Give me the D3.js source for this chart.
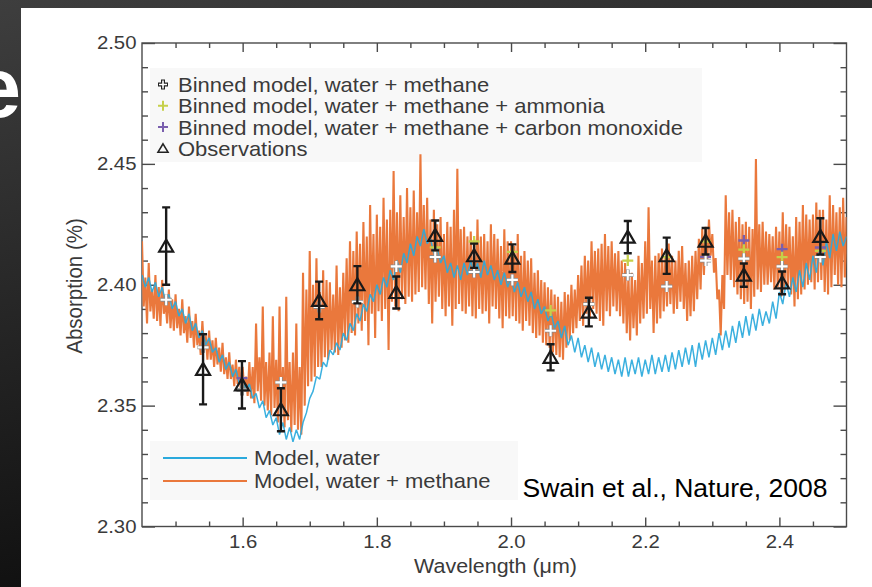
<!DOCTYPE html>
<html>
<head>
<meta charset="utf-8">
<script src="https://cdn.jsdelivr.net/npm/d3@7"></script>
<style>
  html, body { margin: 0; padding: 0; background: #111; }
  svg { display: block; }
</style>
</head>
<body>
<svg id="chart" width="872" height="587"></svg>
<script>
// ---- Model spectra, binned every 0.005 µm from 1.450 µm ----
const gridStart = 1.45;
const gridStep = 0.005;

// Model, water + methane: upper and lower extent of the spectrum within each bin (absorption %)
const methaneHigh = [
  2.418, 2.403, 2.409, 2.398, 2.404, 2.399, 2.402, 2.393, 2.398, 2.394,
  2.396, 2.390, 2.394, 2.387, 2.391, 2.385, 2.388, 2.381, 2.385, 2.379,
  2.381, 2.377, 2.378, 2.374, 2.376, 2.370, 2.372, 2.367, 2.369, 2.366,
  2.366, 2.362, 2.368, 2.366, 2.384, 2.370, 2.391, 2.368, 2.372, 2.387,
  2.369, 2.391, 2.366, 2.395, 2.368, 2.372, 2.384, 2.366, 2.405, 2.398,
  2.414, 2.400, 2.411, 2.397, 2.406, 2.402, 2.401, 2.396, 2.408, 2.399,
  2.405, 2.411, 2.418, 2.414, 2.422, 2.417, 2.426, 2.420, 2.433, 2.421,
  2.429, 2.424, 2.436, 2.427, 2.431, 2.447, 2.430, 2.437, 2.428, 2.440,
  2.432, 2.439, 2.430, 2.454, 2.433, 2.436, 2.427, 2.431, 2.425, 2.428,
  2.421, 2.426, 2.424, 2.431, 2.448, 2.423, 2.424, 2.420, 2.422, 2.419,
  2.427, 2.420, 2.421, 2.418, 2.425, 2.421, 2.419, 2.416, 2.423, 2.418,
  2.418, 2.416, 2.421, 2.412, 2.414, 2.410, 2.411, 2.405, 2.406, 2.402,
  2.401, 2.399, 2.398, 2.396, 2.395, 2.393, 2.397, 2.396, 2.400, 2.398,
  2.404, 2.408, 2.412, 2.410, 2.418, 2.414, 2.415, 2.417, 2.421, 2.416,
  2.418, 2.413, 2.414, 2.410, 2.409, 2.404, 2.405, 2.402, 2.412, 2.409,
  2.418, 2.432, 2.410, 2.412, 2.413, 2.415, 2.411, 2.417, 2.412, 2.410,
  2.414, 2.416, 2.409, 2.410, 2.412, 2.414, 2.419, 2.423, 2.424, 2.427,
  2.421, 2.411, 2.398, 2.404, 2.437, 2.430, 2.431, 2.426, 2.428, 2.425,
  2.426, 2.424, 2.423, 2.452, 2.425, 2.426, 2.422, 2.421, 2.420, 2.424,
  2.422, 2.430, 2.425, 2.424, 2.420, 2.428, 2.426, 2.433, 2.429, 2.427,
  2.429, 2.434, 2.431, 2.431, 2.427, 2.437, 2.433, 2.430, 2.432, 2.436, 2.428
];
const methaneLow = [
  2.391, 2.384, 2.389, 2.386, 2.385, 2.383, 2.388, 2.384, 2.382, 2.381,
  2.382, 2.379, 2.380, 2.376, 2.378, 2.374, 2.375, 2.371, 2.373, 2.369,
  2.369, 2.366, 2.367, 2.364, 2.363, 2.361, 2.361, 2.358, 2.359, 2.356,
  2.356, 2.354, 2.353, 2.351, 2.356, 2.352, 2.350, 2.348, 2.346, 2.349,
  2.343, 2.345, 2.341, 2.344, 2.339, 2.342, 2.340, 2.338, 2.350, 2.358,
  2.360, 2.362, 2.366, 2.366, 2.370, 2.369, 2.373, 2.372, 2.371, 2.374,
  2.377, 2.376, 2.380, 2.379, 2.384, 2.381, 2.385, 2.375, 2.388, 2.378,
  2.389, 2.385, 2.390, 2.373, 2.393, 2.391, 2.389, 2.394, 2.392, 2.395,
  2.393, 2.396, 2.397, 2.399, 2.398, 2.392, 2.384, 2.393, 2.395, 2.390,
  2.387, 2.391, 2.383, 2.390, 2.392, 2.389, 2.388, 2.391, 2.387, 2.386,
  2.390, 2.388, 2.389, 2.384, 2.391, 2.390, 2.386, 2.382, 2.387, 2.386,
  2.387, 2.385, 2.384, 2.381, 2.385, 2.383, 2.380, 2.378, 2.379, 2.376,
  2.375, 2.374, 2.372, 2.371, 2.370, 2.369, 2.374, 2.377, 2.380, 2.382,
  2.385, 2.383, 2.388, 2.386, 2.390, 2.388, 2.385, 2.383, 2.389, 2.387,
  2.391, 2.389, 2.387, 2.384, 2.380, 2.377, 2.382, 2.379, 2.384, 2.386,
  2.388, 2.390, 2.380, 2.384, 2.386, 2.389, 2.391, 2.392, 2.388, 2.390,
  2.393, 2.390, 2.385, 2.387, 2.389, 2.394, 2.398, 2.404, 2.410, 2.412,
  2.405, 2.394, 2.379, 2.390, 2.404, 2.402, 2.399, 2.396, 2.394, 2.392,
  2.393, 2.390, 2.395, 2.398, 2.397, 2.400, 2.400, 2.401, 2.398, 2.399,
  2.395, 2.398, 2.399, 2.396, 2.391, 2.394, 2.396, 2.398, 2.400, 2.401,
  2.398, 2.401, 2.402, 2.397, 2.396, 2.399, 2.404, 2.400, 2.399, 2.403, 2.405
];

// Model, water (absorption %)
const modelWater = [
  2.404, 2.399, 2.403, 2.397, 2.401, 2.395, 2.399, 2.393, 2.396, 2.390,
  2.393, 2.387, 2.390, 2.384, 2.388, 2.381, 2.384, 2.378, 2.381, 2.375,
  2.378, 2.372, 2.374, 2.368, 2.371, 2.365, 2.368, 2.362, 2.365, 2.359,
  2.362, 2.356, 2.359, 2.353, 2.355, 2.349, 2.352, 2.345, 2.348, 2.342,
  2.345, 2.338, 2.343, 2.336, 2.341, 2.335, 2.340, 2.336, 2.343, 2.347,
  2.353, 2.356, 2.362, 2.361, 2.368, 2.366, 2.373, 2.371, 2.376, 2.373,
  2.380, 2.377, 2.384, 2.381, 2.388, 2.385, 2.392, 2.389, 2.396, 2.393,
  2.400, 2.396, 2.403, 2.399, 2.406, 2.402, 2.410, 2.405, 2.413, 2.409,
  2.417, 2.412, 2.420, 2.416, 2.423, 2.417, 2.419, 2.413, 2.415, 2.409,
  2.412, 2.405, 2.409, 2.403, 2.408, 2.402, 2.409, 2.404, 2.410, 2.404,
  2.409, 2.403, 2.410, 2.404, 2.408, 2.402, 2.406, 2.400, 2.405, 2.399,
  2.403, 2.397, 2.401, 2.395, 2.399, 2.393, 2.397, 2.390, 2.394, 2.388,
  2.391, 2.385, 2.388, 2.382, 2.385, 2.378, 2.383, 2.375, 2.379, 2.372,
  2.378, 2.370, 2.375, 2.368, 2.374, 2.366, 2.372, 2.365, 2.371, 2.364,
  2.370, 2.363, 2.369, 2.362, 2.370, 2.362, 2.369, 2.363, 2.370, 2.362,
  2.369, 2.363, 2.371, 2.363, 2.370, 2.364, 2.371, 2.364, 2.372, 2.365,
  2.373, 2.366, 2.374, 2.367, 2.375, 2.366, 2.376, 2.369, 2.377, 2.370,
  2.378, 2.371, 2.380, 2.373, 2.381, 2.374, 2.383, 2.376, 2.385, 2.378,
  2.387, 2.379, 2.388, 2.381, 2.390, 2.383, 2.389, 2.384, 2.393, 2.386,
  2.397, 2.392, 2.401, 2.395, 2.403, 2.397, 2.406, 2.399, 2.409, 2.402,
  2.412, 2.405, 2.415, 2.408, 2.418, 2.411, 2.421, 2.414, 2.422, 2.416, 2.420
];

// ---- Binned models and observations ----
const binWavelength = [1.486, 1.541, 1.599, 1.657, 1.714, 1.771, 1.829, 1.887, 1.945,
                       2.002, 2.059, 2.116, 2.174, 2.232, 2.290, 2.347, 2.404, 2.461];
const binnedWaterMethane = [2.3938, 2.3741, 2.3565, 2.3596, 2.3908, 2.3929, 2.4076, 2.4115, 2.4053,
                            2.4020, 2.3810, 2.3920, 2.4040, 2.3993, 2.4100, 2.4108, 2.4076, 2.4115];
const binnedAmmonia = [2.3938, 2.3741, 2.3565, 2.3596, 2.3908, 2.3929, 2.4076, 2.4155, 2.4179,
                       2.4136, 2.3894, 2.3920, 2.4100, 2.4114, 2.4179, 2.4145, 2.4114, 2.4140];
const binnedCarbonMonoxide = [2.3938, 2.3741, 2.3614, 2.3596, 2.3908, 2.3929, 2.4076, 2.4115, 2.4053,
                              2.4020, 2.3810, 2.3920, 2.4040, 2.3993, 2.4115, 2.4183, 2.4147, 2.4154];
const observed = [2.4160, 2.3650, 2.3586, 2.3483, 2.3935, 2.4000, 2.3968, 2.4204, 2.4120,
                  2.4110, 2.3700, 2.3887, 2.4197, 2.4120, 2.4180, 2.4040, 2.4008, 2.4200];
const observedError = [0.0160, 0.0145, 0.0098, 0.0089, 0.0078, 0.0077, 0.0066, 0.0062, 0.0050,
                       0.0057, 0.0054, 0.0059, 0.0067, 0.0075, 0.0055, 0.0048, 0.0047, 0.0075];

// ---- Axis ticks ----
const xTicksMajor = [1.6, 1.8, 2.0, 2.2, 2.4];
const yTicksMajor = [2.30, 2.35, 2.40, 2.45, 2.50];

// ---- Colours ----
const colorWater = "#2aa9dc";
const colorMethane = "#ea783c";
const colorAmmonia = "#c6d04a";
const colorCO = "#7a5fae";
const axisColor = "#4a4a4a";
const textColor = "#3a3a3a";
const fontFamily = '"Liberation Sans", Arial, Helvetica, sans-serif';

const svg = d3.select("#chart");

// Slide background and the white figure panel
const defs = svg.append("defs");
const bg = defs.append("linearGradient").attr("id", "slideBg")
  .attr("x1", 0).attr("y1", 0).attr("x2", 0.35).attr("y2", 1);
bg.append("stop").attr("offset", 0).attr("stop-color", "#3e3e3e");
bg.append("stop").attr("offset", 1).attr("stop-color", "#0c0c0c");
svg.append("rect").attr("width", 872).attr("height", 587).attr("fill", "url(#slideBg)");

svg.append("text")
  .attr("x", 21).attr("y", 117)
  .attr("text-anchor", "end")
  .attr("font-family", fontFamily)
  .attr("font-weight", "bold")
  .attr("font-size", 86)
  .attr("fill", "#ffffff")
  .text("e");

svg.append("rect").attr("x", 21).attr("y", 8).attr("width", 851).attr("height", 579).attr("fill", "#ffffff");

// Scales
const x = d3.scaleLinear().domain([1.45, 2.50]).range([142, 846.5]);
const y = d3.scaleLinear().domain([2.30, 2.50]).range([526.5, 43]);

const xTicksMinor = d3.range(1.5, 2.4999, 0.05).filter(v => !xTicksMajor.some(m => Math.abs(m - v) < 1e-6));
const yTicksMinor = d3.range(2.31, 2.4999, 0.01).filter(v => !yTicksMajor.some(m => Math.abs(m - v) < 1e-6));

// Legend backing boxes
svg.append("rect").attr("x", 150).attr("y", 68).attr("width", 552).attr("height", 94).attr("fill", "#f8f8f8");
svg.append("rect").attr("x", 150).attr("y", 441).attr("width", 368).attr("height", 59).attr("fill", "#f8f8f8");

function styleAxis(g, withText) {
  g.select(".domain").remove();
  g.selectAll(".tick line").attr("stroke", axisColor).attr("stroke-width", 1.4);
  if (withText) {
    g.selectAll(".tick text")
      .attr("fill", textColor)
      .attr("font-family", fontFamily)
      .attr("font-size", 18.5)
      .attr("transform", "scale(1.1,1)");
  }
}

// Left axis (labelled) + minor ticks
svg.append("g").attr("transform", "translate(142,0)")
  .call(d3.axisLeft(y).tickValues(yTicksMajor).tickSize(-13).tickPadding(5).tickFormat(d3.format(".2f")))
  .call(g => styleAxis(g, true));
svg.append("g").attr("transform", "translate(142,0)")
  .call(d3.axisLeft(y).tickValues(yTicksMinor).tickSize(-6).tickFormat(""))
  .call(g => styleAxis(g, false));
// Right axis mirror ticks
svg.append("g").attr("transform", "translate(846.5,0)")
  .call(d3.axisRight(y).tickValues(yTicksMajor).tickSize(-13).tickFormat(""))
  .call(g => styleAxis(g, false));
svg.append("g").attr("transform", "translate(846.5,0)")
  .call(d3.axisRight(y).tickValues(yTicksMinor).tickSize(-6).tickFormat(""))
  .call(g => styleAxis(g, false));
// Bottom axis (labelled)
svg.append("g").attr("transform", "translate(0,526.5)")
  .call(d3.axisBottom(x).tickValues(xTicksMajor).tickSize(-9).tickPadding(8).tickFormat(d3.format(".1f")))
  .call(g => styleAxis(g, true));
svg.append("g").attr("transform", "translate(0,526.5)")
  .call(d3.axisBottom(x).tickValues(xTicksMinor).tickSize(-5).tickFormat(""))
  .call(g => styleAxis(g, false));
// Top axis mirror ticks
svg.append("g").attr("transform", "translate(0,43)")
  .call(d3.axisTop(x).tickValues(xTicksMajor).tickSize(-9).tickFormat(""))
  .call(g => styleAxis(g, false));
svg.append("g").attr("transform", "translate(0,43)")
  .call(d3.axisTop(x).tickValues(xTicksMinor).tickSize(-5).tickFormat(""))
  .call(g => styleAxis(g, false));

// Frame
svg.append("rect")
  .attr("x", x(1.45)).attr("y", y(2.50))
  .attr("width", x(2.50) - x(1.45)).attr("height", y(2.30) - y(2.50))
  .attr("fill", "none").attr("stroke", axisColor).attr("stroke-width", 1.4);

// Axis titles
svg.append("text")
  .attr("transform", "translate(82,286) scale(1.1,1) rotate(-90)")
  .attr("text-anchor", "middle")
  .attr("font-family", fontFamily).attr("font-size", 20.5).attr("fill", textColor)
  .text("Absorption (%)");
svg.append("text")
  .attr("transform", "translate(495.5,573) scale(1.1,1)")
  .attr("text-anchor", "middle")
  .attr("font-family", fontFamily).attr("font-size", 19.5).attr("fill", textColor)
  .text("Wavelength (\u03bcm)");

// Model spectra
const plot = svg.append("g");
plot.append("clipPath").attr("id", "plotClip").append("rect")
  .attr("x", x(1.45)).attr("y", y(2.50))
  .attr("width", x(2.50) - x(1.45)).attr("height", y(2.30) - y(2.50));
const spectra = plot.append("g").attr("clip-path", "url(#plotClip)");

// The water + methane trace runs through each bin's upper then lower extent
const methaneTrace = [];
methaneHigh.forEach((hi, i) => {
  const w = gridStart + i * gridStep;
  methaneTrace.push([w, hi]);
  methaneTrace.push([w + gridStep / 2, methaneLow[i]]);
});
const traceLine = d3.line().x(d => x(d[0])).y(d => y(d[1]));
const waterLine = d3.line().x((d, i) => x(gridStart + i * gridStep)).y(d => y(d));

spectra.append("path").datum(methaneTrace)
  .attr("d", traceLine).attr("fill", "none")
  .attr("stroke", colorMethane).attr("stroke-width", 2.1).attr("stroke-linejoin", "bevel");
spectra.append("path").datum(modelWater)
  .attr("d", waterLine).attr("fill", "none")
  .attr("stroke", colorWater).attr("stroke-width", 1.5).attr("stroke-linejoin", "bevel")
  .attr("stroke-opacity", 0.92);

// Binned models
const plusPath = r => `M${-r},0H${r}M0,${-r}V${r}`;
function drawPluses(values, color, width) {
  plot.append("g").selectAll("path").data(values).join("path")
    .attr("transform", (d, i) => `translate(${x(binWavelength[i])},${y(d)})`)
    .attr("d", plusPath(5.5))
    .attr("fill", "none").attr("stroke", color).attr("stroke-width", width);
}
drawPluses(binnedCarbonMonoxide, colorCO, 2.3);
drawPluses(binnedAmmonia, colorAmmonia, 2.3);
drawPluses(binnedWaterMethane, "#8a8a8a", 3.8);
drawPluses(binnedWaterMethane, "#ffffff", 2.1);

// Observations with error bars
const obs = plot.append("g").selectAll("g").data(observed).join("g")
  .attr("transform", (d, i) => `translate(${x(binWavelength[i])},0)`);
obs.append("path")
  .attr("d", (d, i) => {
    const top = y(d + observedError[i]), bot = y(d - observedError[i]);
    return `M0,${top}V${bot}M-4,${top}H4M-4,${bot}H4`;
  })
  .attr("fill", "none").attr("stroke", "#1a1a1a").attr("stroke-width", 2.4);
obs.append("path")
  .attr("d", d => `M0,${y(d) - 6.5}L7,${y(d) + 5.5}L-7,${y(d) + 5.5}Z`)
  .attr("fill", "none").attr("stroke", "#1a1a1a").attr("stroke-width", 2.2).attr("stroke-linejoin", "miter");

// Legend: binned models and observations
const legendTop = [
  { label: "Binned model, water + methane", kind: "outlined" },
  { label: "Binned model, water + methane + ammonia", kind: "plus", color: colorAmmonia },
  { label: "Binned model, water + methane + carbon monoxide", kind: "plus", color: colorCO },
  { label: "Observations", kind: "triangle" }
];
legendTop.forEach((item, i) => {
  const base = 92 + i * 21.3;
  const cy = base - 7.5;
  const g = svg.append("g").attr("transform", `translate(163,${cy})`);
  if (item.kind === "outlined") {
    g.append("path").attr("d", plusPath(5)).attr("stroke", "#222").attr("stroke-width", 4).attr("fill", "none");
    g.append("path").attr("d", plusPath(4)).attr("stroke", "#fff").attr("stroke-width", 1.6).attr("fill", "none");
  } else if (item.kind === "plus") {
    g.append("path").attr("d", plusPath(5)).attr("stroke", item.color).attr("stroke-width", 2).attr("fill", "none");
  } else {
    g.append("path").attr("d", "M0,-4.5L5,3.8L-5,3.8Z").attr("stroke", "#222").attr("stroke-width", 1.6).attr("fill", "none");
  }
  svg.append("text")
    .attr("transform", `translate(178,${base}) scale(1.1,1)`)
    .attr("font-family", fontFamily).attr("font-size", 20).attr("fill", textColor)
    .text(item.label);
});

// Legend: model spectra
const legendBottom = [
  { label: "Model, water", color: colorWater },
  { label: "Model, water + methane", color: colorMethane }
];
legendBottom.forEach((item, i) => {
  const base = 465 + i * 23;
  const cy = base - 7;
  svg.append("line").attr("x1", 163).attr("x2", 247).attr("y1", cy).attr("y2", cy)
    .attr("stroke", item.color).attr("stroke-width", 2.2);
  svg.append("text")
    .attr("transform", `translate(254,${base}) scale(1.1,1)`)
    .attr("font-family", fontFamily).attr("font-size", 20).attr("fill", textColor)
    .text(item.label);
});

// Citation
svg.append("text")
  .attr("x", 522.5).attr("y", 497)
  .attr("font-family", fontFamily).attr("font-size", 26.5).attr("fill", "#000")
  .text("Swain et al., Nature, 2008");
</script>
</body>
</html>
